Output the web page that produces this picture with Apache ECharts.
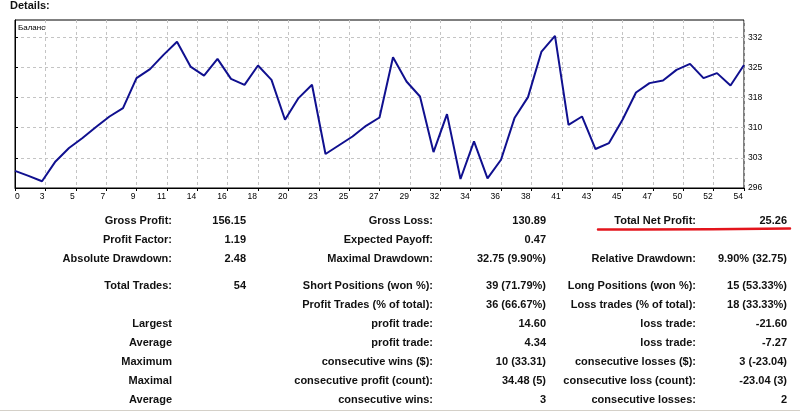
<!DOCTYPE html>
<html>
<head>
<meta charset="utf-8">
<script src="https://cdn.jsdelivr.net/npm/echarts@6/dist/echarts.min.js"></script>
<style>
html,body{margin:0;padding:0;background:#fff;}
#chart{width:800px;height:411px;}
</style>
</head>
<body>
<div id="chart"></div>
<script>
// Balance after each trade (trade 0 = initial deposit)
const balance = [
  300.00, 298.80, 297.52, 302.24, 305.44, 307.82, 310.44, 312.97, 314.97, 322.12,
  324.27, 327.68, 330.80, 324.89, 322.74, 326.73, 321.96, 320.53, 325.13, 321.72,
  312.18, 317.36, 320.53, 304.01, 306.10, 308.20, 310.75, 312.73, 327.13, 321.31,
  317.74, 304.48, 313.54, 298.05, 307.01, 298.19, 302.65, 312.59, 317.59, 328.47,
  332.21, 310.99, 312.97, 305.20, 306.63, 312.18, 318.69, 320.93, 321.55, 324.10,
  325.53, 322.12, 323.32, 320.36, 325.26
];
const xTickLabels = ['0','3','5','7','9','11','14','16','18','20','23','25','27','29','32','34','36','38','41','43','45','47','50','52','54'];
const yTickValues = [295.9, 303.1, 310.3, 317.5, 324.7, 331.9];
const chartTitle = 'Баланс';
const pageTitle = 'Details:';

// Statistics table rows: [label, value, label, value, label, value]
const statRow0 = ['Gross Profit:', '156.15', 'Gross Loss:', '130.89', 'Total Net Profit:', '25.26'];
const statRow1 = ['Profit Factor:', '1.19', 'Expected Payoff:', '0.47', '', ''];
const statRow2 = ['Absolute Drawdown:', '2.48', 'Maximal Drawdown:', '32.75 (9.90%)', 'Relative Drawdown:', '9.90% (32.75)'];
const statRow3 = ['Total Trades:', '54', 'Short Positions (won %):', '39 (71.79%)', 'Long Positions (won %):', '15 (53.33%)'];
const statRow4 = ['', '', 'Profit Trades (% of total):', '36 (66.67%)', 'Loss trades (% of total):', '18 (33.33%)'];
const statRow5 = ['Largest', '', 'profit trade:', '14.60', 'loss trade:', '-21.60'];
const statRow6 = ['Average', '', 'profit trade:', '4.34', 'loss trade:', '-7.27'];
const statRow7 = ['Maximum', '', 'consecutive wins ($):', '10 (33.31)', 'consecutive losses ($):', '3 (-23.04)'];
const statRow8 = ['Maximal', '', 'consecutive profit (count):', '34.48 (5)', 'consecutive loss (count):', '-23.04 (3)'];
const statRow9 = ['Average', '', 'consecutive wins:', '3', 'consecutive losses:', '2'];
const statRows = [statRow0, statRow1, statRow2, statRow3, statRow4, statRow5, statRow6, statRow7, statRow8, statRow9];

const colRight = [172, 246, 433, 546, 696, 787];
const tableFont = 'bold 11px "Liberation Sans", Arial, sans-serif';
const textColor = '#111';

const graphics = [];
graphics.push({type:'text', left: 10, top: 0, style:{text: pageTitle, font: 'bold 11px "Liberation Sans", Arial, sans-serif', fill: textColor}});
graphics.push({type:'text', left: 18, top: 24, style:{text: chartTitle, font: '8px "Liberation Sans", Arial, sans-serif', fill: '#000'}});
statRows.forEach(function(row, r){
  const y = r < 3 ? 221 + r*19 : 286 + (r-3)*19;
  row.forEach(function(t, c){
    if (!t) return;
    graphics.push({type:'text', x: colRight[c], y: y, style:{text: t, font: tableFont, fill: textColor, textAlign:'right', textVerticalAlign:'middle'}});
  });
});
// red underline
graphics.push({type:'bezierCurve', shape:{x1:598, y1:229.5, x2:790, y2:228.5, cpx1:694, cpy1:229.8}, style:{stroke:'#e3141c', lineWidth:2.5, lineCap:'round', fill:null}});
// bottom separator
graphics.push({type:'line', shape:{x1:0, y1:410.5, x2:800, y2:410.5}, style:{stroke:'#d4d0c8', lineWidth:1}});

const chart = echarts.init(document.getElementById('chart'), null, {renderer:'canvas'});
chart.setOption({
  animation: false,
  backgroundColor: '#fff',
  grid: {left: 15, right: 56, top: 20, bottom: 223, show: true, borderColor: '#000', borderWidth: 1, containLabel: false},
  xAxis: {
    type: 'value', min: 0, max: 54, interval: 2.25,
    axisLine: {show: true, lineStyle: {color: '#000', width: 1}},
    axisTick: {show: true, length: 3, lineStyle: {color: '#000'}},
    splitLine: {show: true, lineStyle: {color: '#c4c4c4', type: [3, 3], width: 1}},
    axisLabel: {
      color: '#000', fontSize: 8.5, fontFamily: '"Liberation Sans", Arial, sans-serif', margin: 4,
      align: 'right', alignMinLabel: 'left', padding: [0, 1, 0, 0],
      formatter: function(v){ return xTickLabels[Math.round(v / 2.25)] || ''; }
    }
  },
  yAxis: {
    type: 'value', position: 'right', min: 295.9, max: 336.0,
    axisLine: {show: true, lineStyle: {color: '#000', width: 1}},
    axisTick: {show: true, length: 3, lineStyle: {color: '#000'}, customValues: yTickValues},
    splitLine: {show: true, lineStyle: {color: '#c4c4c4', type: [3, 3], width: 1}},
    axisLabel: {
      color: '#000', fontSize: 8.5, fontFamily: '"Liberation Sans", Arial, sans-serif', margin: 4,
      customValues: yTickValues,
      formatter: function(v){ return String(Math.round(v)); }
    }
  },
  series: [{
    type: 'line',
    data: balance.map(function(v, i){ return [i, v]; }),
    symbol: 'none',
    lineStyle: {color: '#10108f', width: 2},
    z: 5
  }],
  graphic: graphics
});
</script>
</body>
</html>
